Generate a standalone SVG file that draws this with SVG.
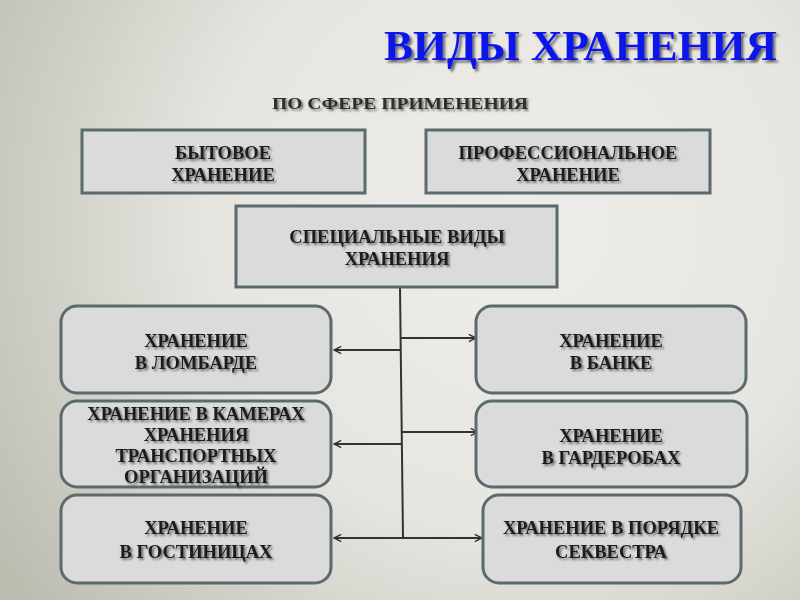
<svg xmlns="http://www.w3.org/2000/svg" width="800" height="600" viewBox="0 0 800 600">
<defs>
<radialGradient id="bg" cx="520" cy="220" r="620" gradientUnits="userSpaceOnUse">
<stop offset="0" stop-color="#eeede9"/>
<stop offset="0.5" stop-color="#e6e5e0"/>
<stop offset="1" stop-color="#bdbcb1"/>
</radialGradient>
<filter id="sh" x="-10%" y="-30%" width="120%" height="160%">
<feDropShadow dx="1.8" dy="1.8" stdDeviation="1" flood-color="#000" flood-opacity="0.55"/>
</filter>
<filter id="tsh" x="-10%" y="-30%" width="120%" height="160%">
<feDropShadow dx="2.5" dy="2.5" stdDeviation="1.2" flood-color="#000" flood-opacity="0.55"/>
</filter>
<marker id="arr" viewBox="0 0 10 10" refX="9" refY="5" markerWidth="9" markerHeight="9" markerUnits="userSpaceOnUse" orient="auto">
<path d="M1,1 L9,5 L1,9" fill="none" stroke="#333" stroke-width="1.6"/>
</marker>
</defs>
<style>
.box{fill:#dbdbdb;stroke:#5b6a6d;stroke-width:3}
.t{font-family:"Liberation Serif","Times New Roman",serif;font-weight:bold;font-size:18.5px;fill:#1c1c1c;text-anchor:middle;filter:url(#sh)}
.c{stroke:#333;stroke-width:2;fill:none}
.a{stroke:#333;stroke-width:2;fill:none;marker-end:url(#arr)}
</style>
<rect width="800" height="600" fill="url(#bg)"/>
<text x="777" y="60" font-family="Liberation Serif,Times New Roman,serif" font-weight="bold" font-size="43" fill="#0c17ea" text-anchor="end" filter="url(#tsh)" textLength="393" lengthAdjust="spacingAndGlyphs">ВИДЫ ХРАНЕНИЯ</text>
<text x="400" y="109" class="t" style="fill:#2e2e2e;font-size:17px" textLength="256" lengthAdjust="spacingAndGlyphs">ПО СФЕРЕ ПРИМЕНЕНИЯ</text>

<g id="connectors">
<path class="c" d="M400,288 L403,538"/>
<path class="a" d="M400,350 L334,350"/>
<path class="a" d="M400,338 L476,338"/>
<path class="a" d="M402,444 L334,444"/>
<path class="a" d="M402,432 L478,432"/>
<path class="a" d="M403,538 L334,538"/>
<path class="a" d="M403,538 L482,538"/>
</g>

<g id="bytovoe">
<rect class="box" x="82" y="130" width="283" height="63"/>
<text class="t" x="223" y="159">БЫТОВОЕ</text>
<text class="t" x="223" y="181">ХРАНЕНИЕ</text>
</g>
<g id="professionalnoe">
<rect class="box" x="426" y="130" width="284" height="63"/>
<text class="t" x="568" y="159">ПРОФЕССИОНАЛЬНОЕ</text>
<text class="t" x="568" y="181">ХРАНЕНИЕ</text>
</g>
<g id="specialnye">
<rect class="box" x="236" y="206" width="321" height="81"/>
<text class="t" x="397" y="243">СПЕЦИАЛЬНЫЕ  ВИДЫ</text>
<text class="t" x="397" y="265">ХРАНЕНИЯ</text>
</g>
<g id="lombard">
<rect class="box" x="61" y="306" width="270" height="87" rx="16"/>
<text class="t" x="196" y="347">ХРАНЕНИЕ</text>
<text class="t" x="196" y="369">В ЛОМБАРДЕ</text>
</g>
<g id="bank">
<rect class="box" x="476" y="306" width="270" height="87" rx="16"/>
<text class="t" x="611" y="347">ХРАНЕНИЕ</text>
<text class="t" x="611" y="369">В БАНКЕ</text>
</g>
<g id="kamery">
<rect class="box" x="61" y="401" width="270" height="86" rx="16"/>
<text class="t" x="196" y="420">ХРАНЕНИЕ В КАМЕРАХ</text>
<text class="t" x="196" y="441">ХРАНЕНИЯ</text>
<text class="t" x="196" y="462">ТРАНСПОРТНЫХ</text>
<text class="t" x="196" y="483">ОРГАНИЗАЦИЙ</text>
</g>
<g id="garderoby">
<rect class="box" x="476" y="401" width="271" height="86" rx="16"/>
<text class="t" x="611" y="442">ХРАНЕНИЕ</text>
<text class="t" x="611" y="464">В ГАРДЕРОБАХ</text>
</g>
<g id="gostinicy">
<rect class="box" x="61" y="495" width="270" height="88" rx="16"/>
<text class="t" x="196" y="534">ХРАНЕНИЕ</text>
<text class="t" x="196" y="558">В ГОСТИНИЦАХ</text>
</g>
<g id="sekvestr">
<rect class="box" x="483" y="495" width="258" height="88" rx="16"/>
<text class="t" x="611" y="534">ХРАНЕНИЕ  В ПОРЯДКЕ</text>
<text class="t" x="611" y="558">СЕКВЕСТРА</text>
</g>
</svg>
